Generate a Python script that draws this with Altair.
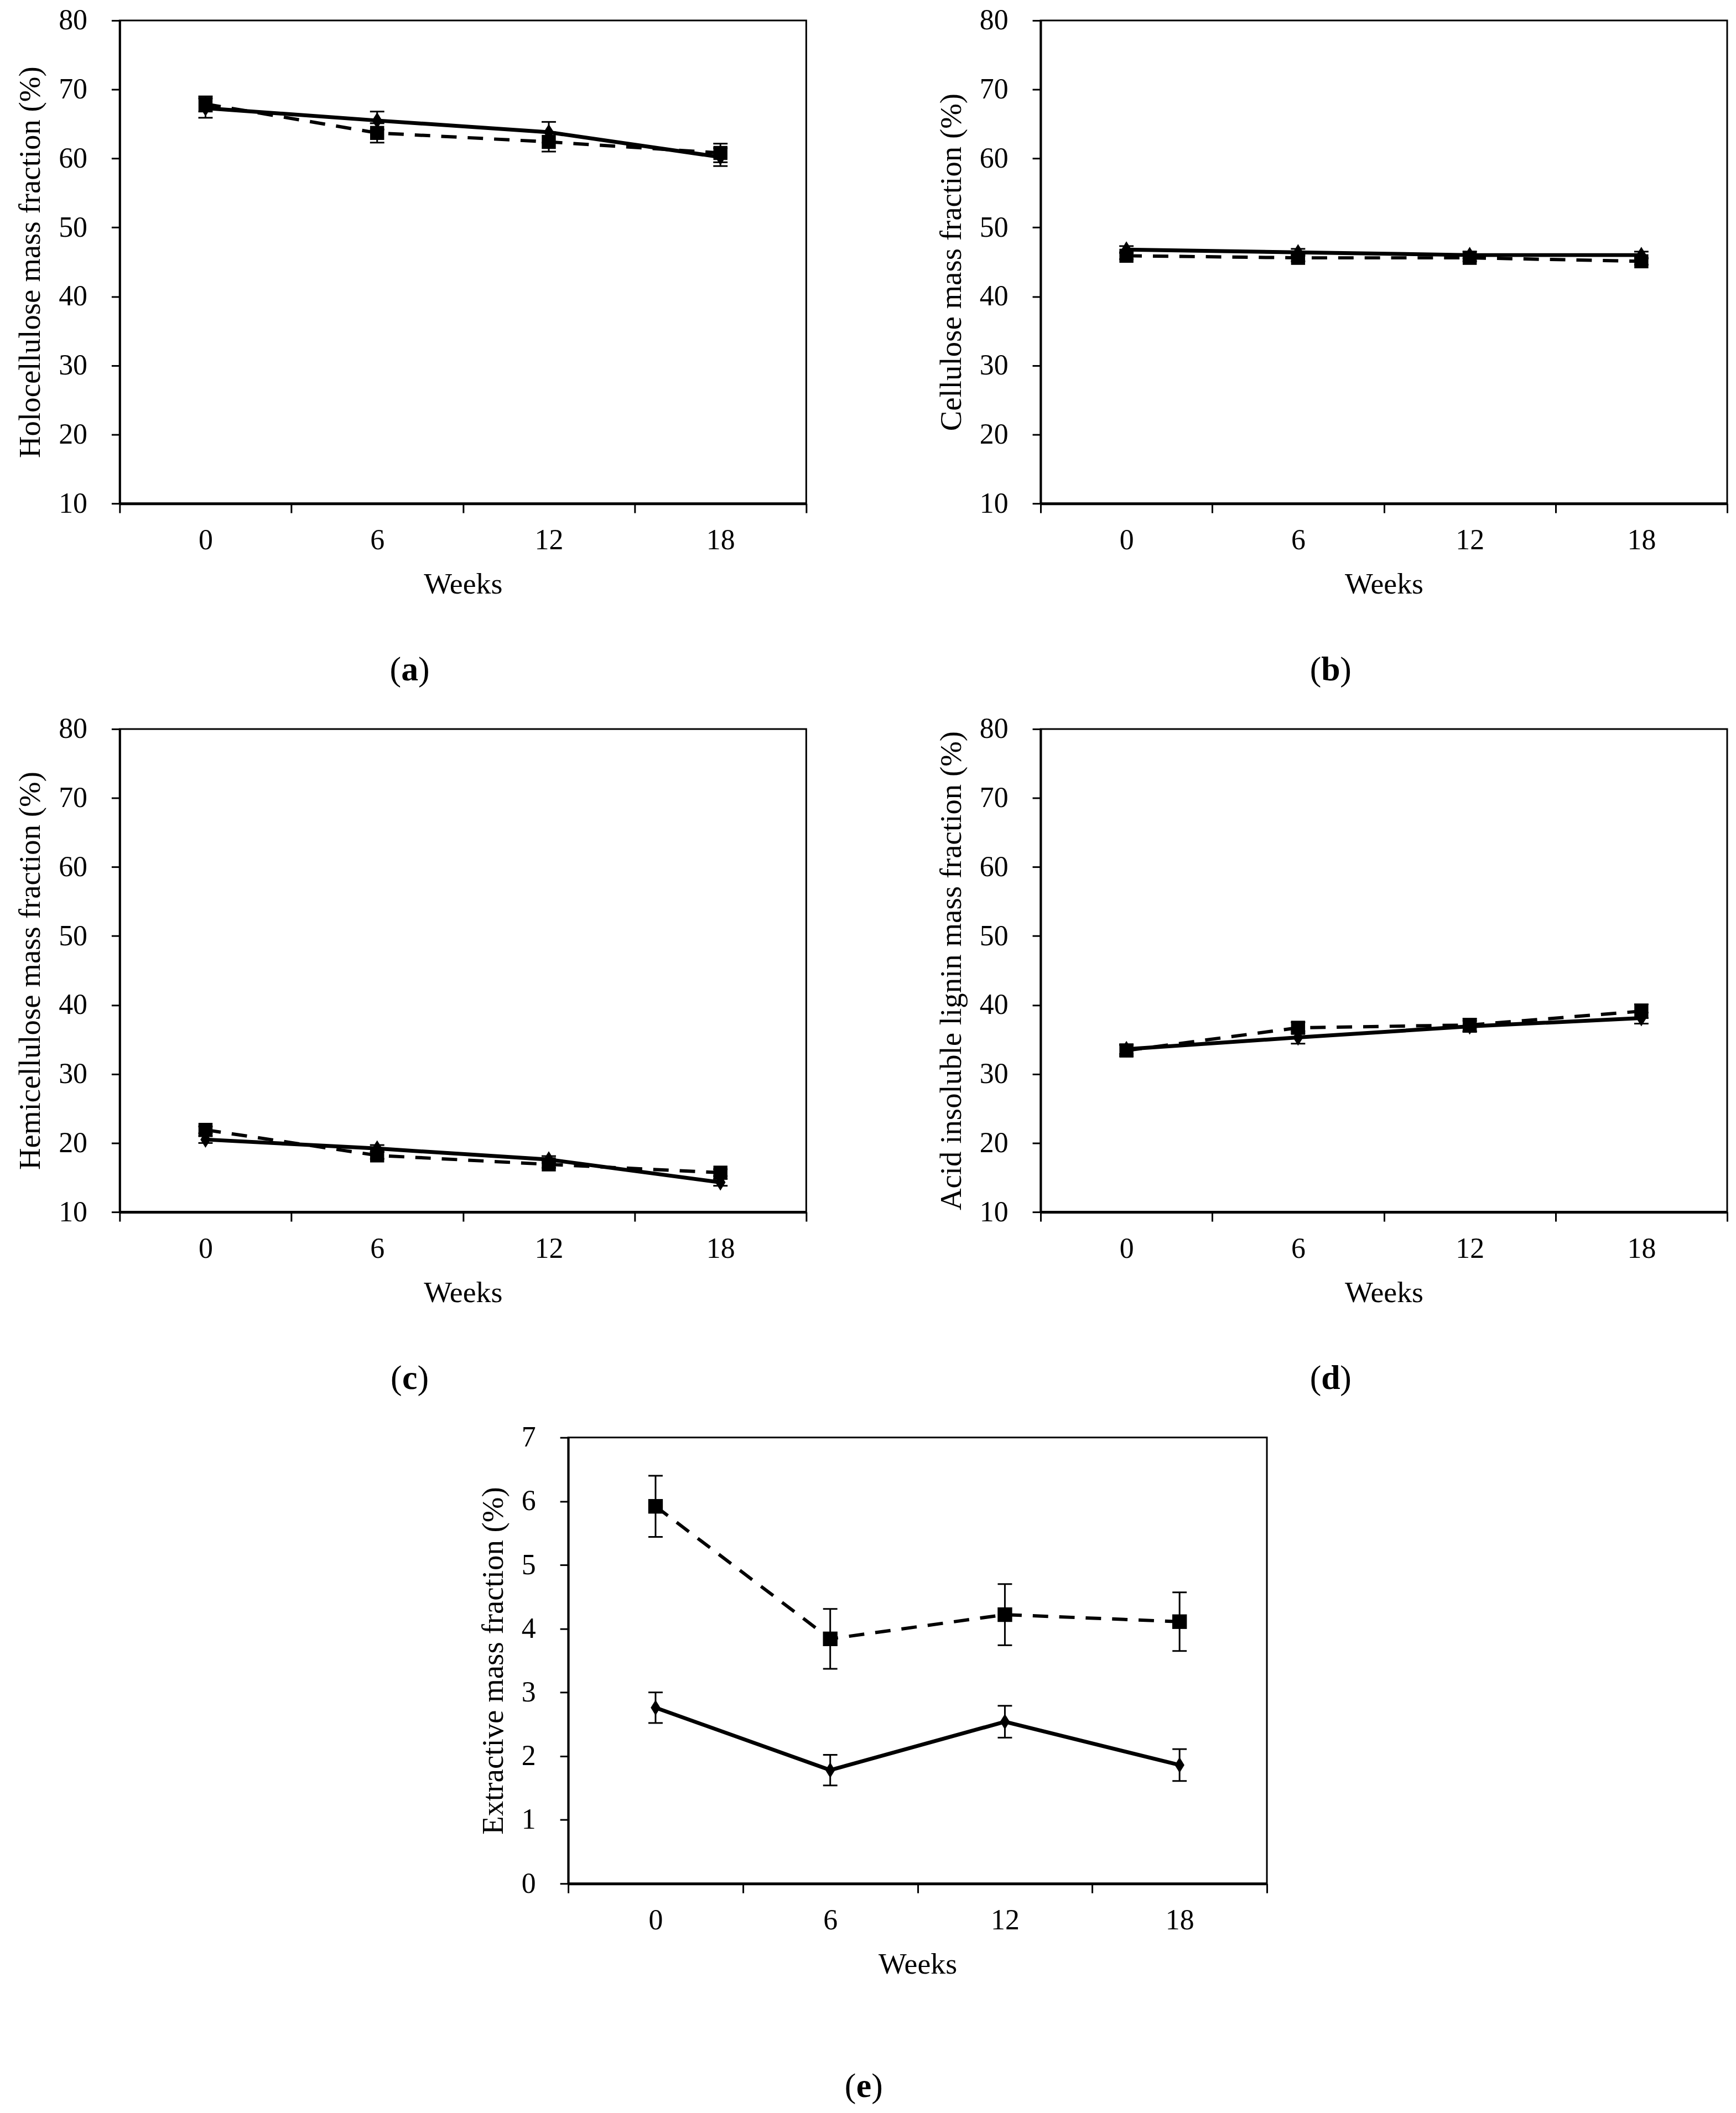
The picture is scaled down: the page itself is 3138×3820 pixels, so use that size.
import altair as alt
import pandas as pd

# ---------------- data ----------------
weeks = [0, 6, 12, 18]

holo_solid = [67.3, 65.5, 63.8, 60.2]
holo_solid_err = [1.4, 1.3, 1.5, 1.3]
holo_dash = [67.9, 63.7, 62.4, 60.8]
holo_dash_err = [1.1, 1.4, 1.4, 1.35]

cell_solid = [46.8, 46.4, 46.0, 46.0]
cell_solid_err = [0.5, 0.5, 0.5, 0.5]
cell_dash = [45.9, 45.6, 45.6, 45.1]
cell_dash_err = [0.5, 0.5, 0.5, 0.5]

hemi_solid = [20.5, 19.2, 17.6, 14.3]
hemi_solid_err = [0.5, 0.5, 0.5, 0.5]
hemi_dash = [21.9, 18.2, 16.9, 15.7]
hemi_dash_err = [0.5, 0.5, 0.5, 0.5]

lig_solid = [33.6, 35.3, 36.9, 38.1]
lig_solid_err = [0.7, 0.9, 0.8, 0.8]
lig_dash = [33.4, 36.7, 37.1, 39.1]
lig_dash_err = [0.8, 0.8, 0.9, 1.0]

ext_solid = [2.76, 1.78, 2.54, 1.86]
ext_solid_err = [0.24, 0.24, 0.25, 0.25]
ext_dash = [5.92, 3.84, 4.22, 4.11]
ext_dash_err = [0.48, 0.47, 0.48, 0.46]

titles = [
    "Holocellulose mass fraction (%)",
    "Cellulose mass fraction (%)",
    "Hemicellulose mass fraction (%)",
    "Acid insoluble lignin mass fraction (%)",
    "Extractive mass fraction (%)",
]
letters = ["a", "b", "c", "d", "e"]
pct_ticks = [10, 20, 30, 40, 50, 60, 70, 80]
ext_ticks = [0, 1, 2, 3, 4, 5, 6, 7]
x_tick_positions = [-3, 0, 3, 6, 9, 12, 15, 18, 21]

FONT = "Liberation Serif"
DIAMOND = "M0,-1L0.62,0L0,1L-0.62,0Z"
LETTER_W = {"a": 31, "b": 34, "c": 28, "d": 34, "e": 28}


def panel(ytitle, s_vals, s_err, d_vals, d_err, ydom, yvals, w, h,
          letter, dsize, ssize, capx, capy, right_pad=0):
    df = pd.DataFrame({
        "week": weeks + weeks,
        "value": s_vals + d_vals,
        "err": s_err + d_err,
        "series": ["solid"] * 4 + ["dashed"] * 4,
    })
    df["lo"] = df["value"] - df["err"]
    df["hi"] = df["value"] + df["err"]

    xaxis = alt.Axis(
        values=x_tick_positions,
        labelExpr="datum.value % 6 == 0 ? datum.label : ''",
        tickOpacity={"condition": {"test": "datum.value % 6 == 0", "value": 0}, "value": 1},
        title="Weeks",
        tickSize=17, tickWidth=3, labelPadding=25, domainWidth=5,
        labelFont=FONT, titleFont=FONT, labelColor="black", titleColor="black",
        tickColor="black", domainColor="black", titleFontWeight="normal",
        labelFontSize=52, titleFontSize=54, titlePadding=27,
        labelOverlap=False, labelFlush=False, grid=False,
    )
    yaxis = alt.Axis(
        values=yvals, title=ytitle,
        tickSize=15, tickWidth=3, labelPadding=44, domainWidth=4,
        labelFont=FONT, titleFont=FONT, labelColor="black", titleColor="black",
        tickColor="black", domainColor="black", titleFontWeight="normal",
        labelFontSize=52, titleFontSize=55, titlePadding=22,
        labelOverlap=False, grid=False,
    )
    xenc = alt.X("week:Q", scale=alt.Scale(domain=[-3, 21], nice=False, zero=False), axis=xaxis)
    yscale = alt.Scale(domain=ydom, nice=False, zero=False)

    base = alt.Chart(df).encode(x=xenc)
    solid = base.transform_filter("datum.series == 'solid'")
    dashed = base.transform_filter("datum.series == 'dashed'")

    solid_line = solid.mark_line(color="black", strokeWidth=7).encode(
        y=alt.Y("value:Q", scale=yscale, axis=yaxis))
    rules = base.mark_rule(color="black", strokeWidth=3).encode(
        y=alt.Y("lo:Q", scale=yscale, axis=yaxis), y2="hi:Q")
    cap_lo = base.mark_tick(color="black", thickness=3, size=26, orient="horizontal", opacity=1).encode(
        y=alt.Y("lo:Q", scale=yscale, axis=yaxis))
    cap_hi = base.mark_tick(color="black", thickness=3, size=26, orient="horizontal", opacity=1).encode(
        y=alt.Y("hi:Q", scale=yscale, axis=yaxis))
    diamonds = solid.mark_point(shape=DIAMOND, filled=True, color="black", size=dsize, opacity=1).encode(
        y=alt.Y("value:Q", scale=yscale, axis=yaxis))
    dash_line = dashed.mark_line(color="black", strokeWidth=6, strokeDash=[28, 20]).encode(
        y=alt.Y("value:Q", scale=yscale, axis=yaxis))
    squares = dashed.mark_point(shape="square", filled=True, color="black", size=ssize, opacity=1).encode(
        y=alt.Y("value:Q", scale=yscale, axis=yaxis))

    one = pd.DataFrame({"k": [0]})
    lw = LETTER_W[letter]
    t_open = alt.Chart(one).mark_text(text="(", font=FONT, fontSize=62, align="right",
                                      baseline="middle", color="black").encode(
        x=alt.value(capx - lw / 2), y=alt.value(capy))
    t_letter = alt.Chart(one).mark_text(text=letter, font=FONT, fontSize=62, fontWeight="bold",
                                        align="center", baseline="middle", color="black").encode(
        x=alt.value(capx), y=alt.value(capy))
    t_close = alt.Chart(one).mark_text(text=")", font=FONT, fontSize=62, align="left",
                                       baseline="middle", color="black").encode(
        x=alt.value(capx + lw / 2), y=alt.value(capy))
    layers = [solid_line, rules, cap_lo, cap_hi, diamonds, dash_line, squares,
              t_open, t_letter, t_close]
    if right_pad:
        spacer = alt.Chart(one).mark_text(text=".", fontSize=10, opacity=0, align="left").encode(
            x=alt.value(w + right_pad), y=alt.value(h / 2))
        layers.append(spacer)
    return alt.layer(*layers).properties(width=w, height=h)


W, H = 1245, 876
pa = panel(titles[0], holo_solid, holo_solid_err, holo_dash, holo_dash_err, [10, 80], pct_ticks,
           W, H, letters[0], 900, 650, 526, 1178)
pb = panel(titles[1], cell_solid, cell_solid_err, cell_dash, cell_dash_err, [10, 80], pct_ticks,
           W, H, letters[1], 900, 650, 526, 1178)
pc = panel(titles[2], hemi_solid, hemi_solid_err, hemi_dash, hemi_dash_err, [10, 80], pct_ticks,
           W, H, letters[2], 900, 650, 526, 1178)
pd_ = panel(titles[3], lig_solid, lig_solid_err, lig_dash, lig_dash_err, [10, 80], pct_ticks,
            W, H, letters[3], 900, 650, 526, 1178)
pe = panel(titles[4], ext_solid, ext_solid_err, ext_dash, ext_dash_err, [0, 7], ext_ticks,
           1267, 809, letters[4], 800, 700, 536, 1177, right_pad=20)

chart = alt.vconcat(
    alt.hconcat(pa, pb, spacing=231),
    alt.hconcat(pc, pd_, spacing=231),
    pe,
    spacing=46,
    center=True,
).properties(
    padding={"left": 18, "top": -5, "right": 5, "bottom": 5},
    background="white",
).configure_view(
    stroke="black", strokeWidth=3
).configure_axis(
    labelFont=FONT, titleFont=FONT, labelColor="black", titleColor="black",
    tickColor="black", domainColor="black", titleFontWeight="normal", grid=False,
)

chart.save("out.html", embed_options={"renderer": "svg", "actions": False})
